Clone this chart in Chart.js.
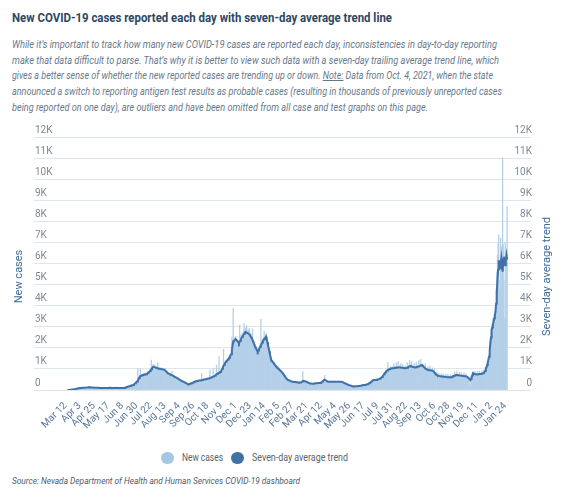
<!DOCTYPE html>
<html><head><meta charset="utf-8">
<script src="https://cdn.jsdelivr.net/npm/chart.js@4.4.1/dist/chart.umd.min.js"></script>
<style>
html,body{margin:0;padding:0;background:#fff;}
body{width:572px;height:501px;position:relative;overflow:hidden;font-family:Roboto,"Noto Sans",sans-serif;}
.fit{position:absolute;left:12px;white-space:nowrap;transform-origin:0 50%;}
#title{top:9.5px;font-size:12.8px;line-height:16px;font-weight:700;color:#2c4762;}
.sub{font-size:10.7px;line-height:15.7px;font-style:italic;color:#66788b;}
#chartBox{position:absolute;left:0;top:120px;width:572px;height:320px;}
.dot{position:absolute;top:451.7px;width:12.5px;height:12.5px;border-radius:50%;}
.lt{position:absolute;top:451px;font-size:10.5px;line-height:14px;color:#56636f;white-space:nowrap;transform-origin:0 50%;}
#source{top:475.3px;font-size:9.5px;line-height:12px;font-style:italic;color:#4b5d70;}
</style>
</head><body>
<div id="title" class="fit" data-w="380">New COVID-19 cases reported each day with seven-day average trend line</div>
<div class="fit sub" style="top:36.8px" data-w="485">While it’s important to track how many new COVID-19 cases are reported each day, inconsistencies in day-to-day reporting</div>
<div class="fit sub" style="top:52.5px" data-w="487">make that data difficult to parse. That’s why it is better to view such data with a seven-day trailing average trend line, which</div>
<div class="fit sub" style="top:68.2px" data-w="481">gives a better sense of whether the new reported cases are trending up or down. <u>Note:</u> Data from Oct. 4, 2021, when the state</div>
<div class="fit sub" style="top:83.9px" data-w="490">announced a switch to reporting antigen test results as probable cases (resulting in thousands of previously unreported cases</div>
<div class="fit sub" style="top:99.6px" data-w="416">being reported on one day), are outliers and have been omitted from all case and test graphs on this page.</div>
<div id="chartBox"><canvas id="c" width="572" height="320"></canvas></div>
<div class="dot" style="left:161px;background:#a6c7e3"></div>
<div class="lt" style="left:181.7px" data-w="41">New cases</div>
<div class="dot" style="left:231px;background:#3f72a6"></div>
<div class="lt" style="left:251.7px" data-w="96">Seven-day average trend</div>
<div id="source" class="fit" data-w="288">Source: Nevada Department of Health and Human Services COVID-19 dashboard</div>
<script>
// x-axis tick labels, one every 22 reported days starting Mar 12, 2020 (Oct. 4, 2021 omitted)
const tickLabels = ["Mar 12","Apr 3","Apr 25","May 17","Jun 8","Jun 30","Jul 22","Aug 13","Sep 4","Sep 26","Oct 18","Nov 9","Dec 1","Dec 23","Jan 14","Feb 5","Feb 27","Mar 21","Apr 12","May 4","May 26","Jun 17","Jul 9","Jul 31","Aug 22","Sep 13","Oct 6","Oct 28","Nov 19","Dec 11","Jan 2","Jan 24"];
const daysPerTick = 22;
const seriesNames = ["New cases", "Seven-day average trend"];
const axisTitles = ["New cases", "Seven-day average trend"];
const yTicks = [0,1000,2000,3000,4000,5000,6000,7000,8000,9000,10000,11000,12000];

// daily new cases (Mar 12, 2020 onward)
const newCases = [
1,2,2,6,8,11,13,20,26,28,
38,40,55,60,62,80,75,90,85,99,
100,92,110,98,115,100,120,104,118,110,
125,112,140,135,150,118,130,115,128,110,
124,105,120,102,118,98,112,96,110,95,
108,92,106,90,112,88,104,90,102,86,
104,88,110,92,106,94,160,96,108,90,
106,90,104,88,102,150,86,100,84,96,
96,84,100,88,104,90,106,108,
110,120,112,140,150,160,175,
185,170,210,195,230,215,250,
260,280,310,330,380,400,
430,1000,560,610,680,
1000,640,740,680,760,
780,690,800,700,820,
820,740,880,800,940,
960,880,1420,1000,1150,
1200,1050,1180,1000,1120,
1100,980,1300,960,1080,
1060,940,1050,930,1040,920,1020,
1010,900,960,840,900,780,840,740,
800,720,780,680,900,650,710,610,670,580,
640,560,600,520,560,480,520,440,480,410,
450,380,420,350,390,320,340,290,310,260,
290,260,310,300,340,310,370,340,400,370,
430,380,450,400,460,420,470,
480,430,490,780,500,460,520,470,
530,480,550,500,560,510,580,
590,950,610,570,640,600,1030,620,
700,650,760,1180,800,740,
840,1580,880,820,
920,900,1080,1040,
1930,1150,1320,1250,
1420,1320,1500,1380,
1560,1450,1700,1580,
1800,2500,2300,
3870,2200,2450,2100,
2550,2250,2400,2100,2350,
2100,3080,2300,2600,2350,
2700,2400,2800,3150,2650,
2950,2600,3050,2500,2850,
2800,2920,2700,2400,2650,
2600,2900,2400,2100,2200,
2150,1900,2050,1650,
1700,1950,1800,2100,
2200,3350,2100,2400,2200,
2500,2800,2350,2600,
2700,2300,2400,
2250,1900,1950,1600,1650,
1500,1320,1420,1250,1350,1150,1250,1080,
1180,1000,1120,960,1050,900,980,840,920,780,
850,700,760,620,650,520,570,
540,460,500,430,470,400,440,380,
420,370,410,360,400,350,390,
390,340,380,330,370,340,380,
400,380,870,420,460,400,430,
420,370,390,340,360,310,330,
330,290,320,280,320,290,330,300,
340,300,350,310,350,310,350,
350,320,380,370,440,430,500,
700,450,470,410,430,380,410,
410,370,410,380,420,370,420,
410,380,420,370,410,380,410,
400,370,410,380,400,370,390,
380,340,350,310,320,290,300,
280,240,250,220,230,200,210,
200,170,185,160,180,165,185,
185,170,190,175,200,185,210,
215,200,230,215,250,230,260,
265,240,275,260,300,290,340,
360,340,410,400,480,440,490,
500,450,500,460,520,480,540,
550,500,580,540,630,590,680,
740,720,840,800,920,870,980,
1300,920,1040,950,1100,980,1080,
1100,980,1250,1000,1120,1000,1300,
1130,1020,1350,1010,1140,1000,1250,
1120,990,1200,990,1110,980,1150,
1100,980,1300,1020,1150,1050,1400,
1200,1080,1350,1040,1150,1020,1250,
1130,1010,1300,1030,1160,1050,1400,
1200,1080,1450,1100,1250,1080,1200,
1150,1000,1250,940,1040,900,1100,
1000,880,1150,870,980,860,1050,
950,820,1000,750,820,690,850,
730,630,800,610,700,600,780,
680,590,760,580,670,580,750,
650,560,740,560,650,550,720,
640,560,700,600,720,630,850,
750,650,880,660,760,640,840,
720,630,820,620,710,610,800,
700,600,780,590,660,540,600,
500,300,150,700,650,780,900,
820,700,900,690,800,680,880,
790,690,900,700,820,700,920,
840,720,950,900,1100,1050,1200,
1300,1250,1600,1700,2300,2400,2900,
3100,2700,3400,3200,3600,3300,4100,
4800,5600,6400,6950,7350,4800,5200,
7200,6800,4500,11000,6900,5200,3400,
7000,3300,6500,8700
];

// seven-day trailing average
const sevenDayAvg = [
1,2,3,5,7,10,14,18,24,30,
35,42,50,58,65,72,78,84,88,92,
95,98,100,103,105,107,108,110,112,113,
115,118,122,128,130,128,125,122,120,118,
116,114,112,110,108,106,105,104,103,102,
100,100,99,98,97,97,96,96,95,95,
95,96,97,98,99,100,100,101,100,99,
99,98,97,96,95,94,93,92,91,90,
90,91,92,93,95,96,98,100,
100,108,118,128,140,152,162,
170,180,190,200,210,222,232,
240,262,290,320,350,380,
400,450,510,570,620,
660,675,690,700,710,
720,728,736,745,752,
760,785,815,845,870,
900,940,985,1030,1070,
1100,1095,1085,1075,1060,
1050,1040,1030,1015,1005,
1000,995,990,985,980,975,968,
960,940,910,880,850,820,795,775,
760,745,730,715,700,685,670,650,630,615,
600,585,565,545,525,505,485,465,445,430,
420,405,390,375,360,340,320,305,290,280,
270,280,295,310,320,330,345,360,375,390,
400,410,418,425,432,440,445,
450,455,460,466,472,480,488,495,
500,508,516,524,532,540,550,
560,572,585,598,612,625,640,650,
660,685,710,735,760,780,
800,820,840,855,
870,940,1010,1080,
1150,1200,1250,1300,
1350,1380,1410,1445,
1480,1530,1590,1650,
1700,1900,2100,
2300,2330,2360,2380,
2400,2370,2330,2300,2260,
2210,2270,2340,2410,2470,
2530,2580,2620,2670,2710,
2750,2740,2720,2710,2690,
2680,2640,2590,2540,2500,
2450,2370,2290,2210,2130,
2050,1990,1930,1870,
1820,1870,1930,1990,
2050,2120,2180,2250,2310,
2370,2410,2450,2490,
2530,2400,2260,
2130,1990,1840,1700,1560,
1420,1380,1340,1300,1260,1220,1180,1140,
1100,1070,1040,1010,980,950,920,890,860,825,
790,750,705,660,610,560,530,
500,485,470,455,440,425,410,400,
395,390,385,385,380,375,370,
365,360,355,350,352,355,360,
380,400,425,440,430,420,410,
400,385,370,355,340,325,315,
310,305,305,300,300,305,310,315,
320,320,325,325,330,330,330,
330,340,360,390,420,450,470,
480,470,450,430,410,400,395,
390,390,392,394,395,396,396,
395,394,393,392,391,390,390,
390,390,392,392,390,386,380,
370,355,340,325,310,300,285,
270,255,240,230,220,210,200,
190,180,175,170,172,174,176,
178,180,182,185,190,195,200,
205,210,220,228,235,240,245,
250,255,260,270,285,300,320,
340,360,390,420,450,460,465,
470,470,472,480,490,500,510,
520,530,545,565,590,615,640,
700,750,790,830,870,900,920,
950,965,980,995,1005,1015,1025,
1030,1035,1040,1045,1050,1055,1060,
1065,1070,1070,1072,1070,1066,1062,
1058,1055,1050,1045,1040,1035,1030,
1030,1040,1055,1075,1095,1115,1130,
1140,1130,1115,1100,1090,1080,1075,
1070,1070,1080,1090,1100,1110,1120,
1135,1150,1165,1175,1180,1150,1120,
1100,1060,1020,1000,980,970,960,
950,945,940,930,925,920,915,
900,870,840,800,770,740,710,
690,680,670,660,655,650,645,
640,636,632,630,628,625,620,
615,610,608,605,603,600,600,
600,610,625,645,665,680,690,
700,705,710,710,705,698,690,
685,680,676,672,668,664,660,
656,652,648,644,630,600,560,
540,510,470,530,600,700,790,
780,770,760,750,745,740,740,
745,750,755,760,765,770,780,
785,790,820,860,900,980,1070,
1180,1300,1440,1580,1900,2200,2500,
2840,2970,3100,3240,3400,3550,3710,
4100,4600,5210,5700,6160,5900,5770,
6000,6240,5900,5610,6000,6320,6100,
5920,6150,6400,6200
];

function fitText(){
  document.querySelectorAll('[data-w]').forEach(el => {
    el.style.transform = 'none';
    const w = el.getBoundingClientRect().width;
    if (w > 0) el.style.transform = 'scaleX(' + (parseFloat(el.dataset.w) / w) + ')';
  });
}

const tickFont = {family: 'Roboto, "Noto Sans", sans-serif', size: 10};
const kFormat = v => v === 0 ? '0' : (v / 1000) + 'K';

const axisTitlePlugin = {
  id: 'axisTitlePlugin',
  afterDraw(chart) {
    const {ctx, chartArea: a} = chart;
    const cy = (a.top + a.bottom) / 2 + 13;
    ctx.save();
    ctx.font = '11px Roboto, "Noto Sans", sans-serif';
    ctx.fillStyle = '#3f6c9c';
    ctx.textAlign = 'center';
    ctx.textBaseline = 'middle';
    ctx.translate(19.5, cy);
    ctx.rotate(-Math.PI / 2);
    ctx.fillText(axisTitles[0], 0, 0);
    ctx.restore();
    ctx.save();
    ctx.font = '11px Roboto, "Noto Sans", sans-serif';
    ctx.fillStyle = '#3f6c9c';
    ctx.textAlign = 'center';
    ctx.textBaseline = 'middle';
    ctx.translate(a.right + 16.5, cy);
    ctx.rotate(-Math.PI / 2);
    ctx.fillText(axisTitles[1], 0, 0);
    ctx.restore();
  }
};

const chart = new Chart(document.getElementById('c'), {
  type: 'bar',
  data: {
    datasets: [
      {
        type: 'line',
        label: seriesNames[1],
        data: sevenDayAvg.map((v, i) => ({x: i, y: v})),
        borderColor: '#4072a8',
        borderWidth: 2,
        pointRadius: 0,
        tension: 0,
        order: 0,
        yAxisID: 'y'
      },
      {
        type: 'bar',
        label: seriesNames[0],
        data: newCases.map((v, i) => ({x: i, y: v})),
        backgroundColor: '#b4d0e8',
        borderWidth: 0,
        barPercentage: 1,
        categoryPercentage: 1,
        order: 1,
        yAxisID: 'y'
      }
    ]
  },
  options: {
    responsive: false,
    animation: false,
    devicePixelRatio: 1,
    layout: {padding: {top: 17, left: 0, right: 0, bottom: 0}},
    plugins: {legend: {display: false}, tooltip: {enabled: false}, title: {display: false}},
    scales: {
      x: {
        type: 'linear',
        min: -40,
        max: 707,
        grid: {display: false},
        border: {display: false},
        afterBuildTicks: s => { s.ticks = tickLabels.map((t, i) => ({value: i * daysPerTick})); },
        afterFit: s => { s.height = 50; },
        ticks: {
          autoSkip: false,
          minRotation: 45,
          maxRotation: 45,
          padding: 2,
          labelOffset: -2,
          color: '#5a7897',
          font: tickFont,
          callback: (v, i) => tickLabels[i]
        }
      },
      y: {
        type: 'linear',
        position: 'left',
        min: 0,
        max: 12000,
        afterBuildTicks: s => { s.ticks = yTicks.map(v => ({value: v})); },
        afterFit: s => { s.width = 34; },
        grid: {color: '#dfe5ec', lineWidth: 1, drawTicks: false},
        border: {display: false},
        ticks: {mirror: true, padding: 1, labelOffset: -7, color: '#7d8995', font: tickFont, callback: kFormat}
      },
      y2: {
        type: 'linear',
        position: 'right',
        min: 0,
        max: 12000,
        afterBuildTicks: s => { s.ticks = yTicks.map(v => ({value: v})); },
        afterFit: s => { s.width = 41; },
        grid: {display: false, drawTicks: false},
        border: {display: false},
        ticks: {mirror: true, padding: 1, labelOffset: -7, color: '#7d8995', font: tickFont, callback: kFormat}
      }
    }
  },
  plugins: [axisTitlePlugin]
});

fitText();
if (document.fonts && document.fonts.ready) {
  document.fonts.ready.then(() => { fitText(); chart.update('none'); });
}
</script>
</body></html>
